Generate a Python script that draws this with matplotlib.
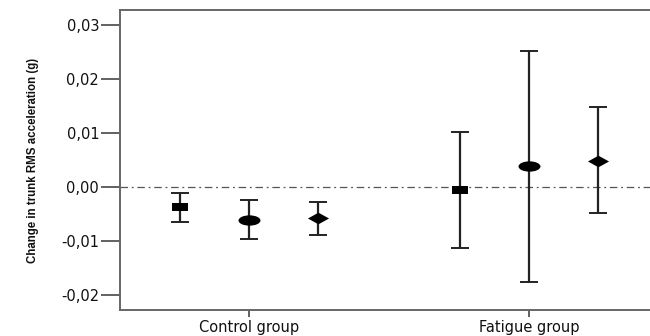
import matplotlib
matplotlib.use("Agg")
import matplotlib.pyplot as plt
import numpy as np
from matplotlib.path import Path
from matplotlib.transforms import Affine2D

# Data
groups = ["Control group", "Fatigue group"]
square_mean = [-0.0037, -0.0006]
square_low = [-0.0065, -0.0114]
square_high = [-0.0011, 0.0102]
circle_mean = [-0.0061, 0.0038]
circle_low = [-0.0097, -0.0177]
circle_high = [-0.0025, 0.0252]
diamond_mean = [-0.0058, 0.0049]
diamond_low = [-0.0089, -0.0049]
diamond_high = [-0.0028, 0.0148]
yticks = [-0.02, -0.01, 0.0, 0.01, 0.02, 0.03]
ytick_labels = ["-0,02", "-0,01", "0,00", "0,01", "0,02", "0,03"]

# wide, flattened markers (the source figure is stretched horizontally)
sq_marker = Path([(-1, -0.5), (1, -0.5), (1, 0.5), (-1, 0.5), (-1, -0.5)],
                 [Path.MOVETO, Path.LINETO, Path.LINETO, Path.LINETO, Path.CLOSEPOLY])
ell_marker = Path.unit_circle().transformed(Affine2D().scale(1.0, 0.47))
dia_marker = Path([(-1, 0), (0, 0.55), (1, 0), (0, -0.55), (-1, 0)],
                  [Path.MOVETO, Path.LINETO, Path.LINETO, Path.LINETO, Path.CLOSEPOLY])

fig = plt.figure(figsize=(6.5, 3.36), dpi=100)
ax = fig.add_axes([120 / 650, 26 / 336, 540 / 650, 300 / 336])

x = np.arange(len(groups))
off = 0.246
series = [
    (x - off, square_mean, square_low, square_high, sq_marker, 11.2),
    (x, circle_mean, circle_low, circle_high, ell_marker, 15.8),
    (x + off, diamond_mean, diamond_low, diamond_high, dia_marker, 15.2),
]

ax.axhline(0, color="#555555", lw=0.9, ls=(0, (6, 3, 1.5, 3)), zorder=1)

for xs, m, lo, hi, mk, ms in series:
    m = np.asarray(m)
    err = [m - np.asarray(lo), np.asarray(hi) - m]
    ax.errorbar(xs, m, yerr=err, fmt="none", ecolor="#222222", elinewidth=1.6,
                capsize=6.5, capthick=1.4, zorder=2)
    ax.plot(xs, m, ls="none", marker=mk, ms=ms, color="black", mec="black",
            mew=0, zorder=3)

# x range chosen so the groups land where they sit in the reference
ax.set_xlim(-0.461, 1.468)
ax.set_ylim(-0.0228, 0.0328)
ax.set_xticks(x)
ax.set_xticklabels(groups, fontsize=10.5, family="DejaVu Sans", color="#111111")
ax.set_yticks(yticks)
ax.set_yticklabels(ytick_labels, fontsize=10.5, family="DejaVu Sans", color="#111111")
ax.tick_params(axis="y", length=13.5, width=1.3, color="#555555", pad=1.5)
ax.tick_params(axis="x", length=5, width=1.3, color="#555555", pad=2)

for side in ["left", "top", "bottom"]:
    ax.spines[side].set_color("#666666")
    ax.spines[side].set_linewidth(1.4)
ax.spines["right"].set_visible(False)

ax.set_ylabel("Change in trunk RMS acceleration (g)", fontsize=8.3,
              family="Liberation Sans", fontweight="bold", color="#111111",
              labelpad=16)

fig.savefig("out.png", dpi=100)
